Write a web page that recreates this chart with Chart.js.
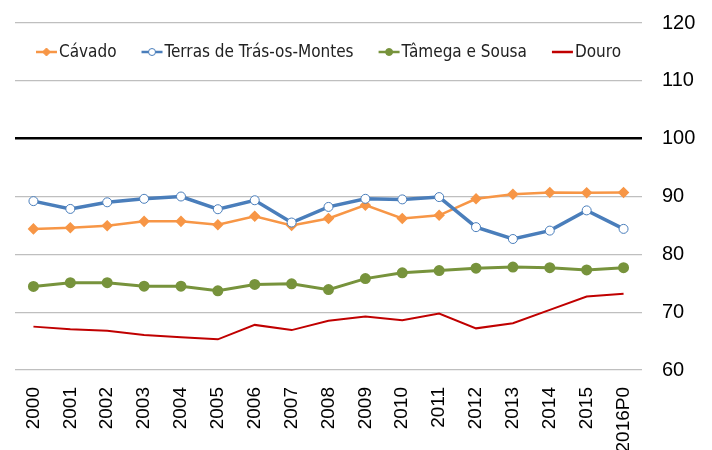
<!DOCTYPE html>
<html>
<head>
<meta charset="utf-8">
<script src="https://cdn.jsdelivr.net/npm/chart.js@4/dist/chart.umd.min.js"></script>
<style>
  html, body { margin: 0; padding: 0; background: #fff; }
  #wrap { width: 712px; height: 450px; }
</style>
</head>
<body>
<div id="wrap"><canvas id="lineChart" width="712" height="450"></canvas></div>
<script>
// chart data
const years = ['2000', '2001', '2002', '2003', '2004', '2005', '2006', '2007', '2008',
  '2009', '2010', '2011', '2012', '2013', '2014', '2015', '2016P0'];
const cavado = [84.4, 84.6, 84.95, 85.7, 85.7, 85.1, 86.6, 85.0, 86.2, 88.5, 86.2, 86.75, 89.6, 90.4, 90.7, 90.65, 90.7];
const terras = [89.2, 87.85, 89.0, 89.6, 90.0, 87.8, 89.35, 85.5, 88.2, 89.6, 89.5, 89.9, 84.7, 82.65, 84.1, 87.6, 84.4];
const tamega = [74.45, 75.1, 75.1, 74.5, 74.5, 73.7, 74.8, 74.9, 73.9, 75.8, 76.8, 77.2, 77.6, 77.8, 77.7, 77.3, 77.7];
const douro = [67.5, 67.05, 66.8, 66.05, 65.65, 65.3, 67.8, 66.9, 68.5, 69.25, 68.6, 69.75, 67.2, 68.1, 70.4, 72.7, 73.2];
const yTicks = [60, 70, 80, 90, 100, 110, 120];

const legendFont = '17px "DejaVu Sans Condensed", "DejaVu Sans", sans-serif';

// legend drawn inside the plot, line + marker like the original
const insideLegend = {
  id: 'insideLegend',
  afterDatasetsDraw(chart) {
    const c = chart.ctx;
    const area = chart.chartArea;
    const sets = chart.data.datasets;
    const lineLen = 21, gap = 2, itemGap = 25;
    c.save();
    c.font = legendFont;
    const widths = sets.map(ds => lineLen + gap + c.measureText(ds.label).width);
    const total = widths.reduce((a, b) => a + b, 0) + itemGap * (sets.length - 1);
    let x = (area.left + area.right) / 2 - total / 2;
    const y = area.top + 29;
    sets.forEach((ds, i) => {
      c.strokeStyle = ds.borderColor;
      c.lineWidth = 2.5;
      c.beginPath();
      c.moveTo(x, y);
      c.lineTo(x + lineLen, y);
      c.stroke();
      if (ds.pointRadius > 0) {
        const mx = x + lineLen / 2;
        c.fillStyle = ds.pointBackgroundColor;
        c.strokeStyle = ds.pointBorderColor;
        c.beginPath();
        if (ds.pointStyle === 'rectRot') {
          c.moveTo(mx, y - 4);
          c.lineTo(mx + 4, y);
          c.lineTo(mx, y + 4);
          c.lineTo(mx - 4, y);
          c.closePath();
        } else {
          c.arc(mx, y, 3.5, 0, Math.PI * 2);
        }
        c.fill();
        c.lineWidth = 1;
        c.stroke();
      }
      c.fillStyle = '#222';
      c.textBaseline = 'middle';
      c.textAlign = 'left';
      c.fillText(ds.label, x + lineLen + gap, y + 1);
      x += widths[i] + itemGap;
    });
    c.restore();
  }
};

const ctx = document.getElementById('lineChart').getContext('2d');
const lineChart = new Chart(ctx, {
  type: 'line',
  data: {
    labels: years,
    datasets: [
      {
        label: 'Cávado',
        data: cavado,
        borderColor: '#F79646',
        backgroundColor: '#F79646',
        pointBackgroundColor: '#F79646',
        pointBorderColor: '#F79646',
        pointStyle: 'rectRot',
        pointRadius: 4,
        borderWidth: 2.5,
        order: 4
      },
      {
        label: 'Terras de Trás-os-Montes',
        data: terras,
        borderColor: '#4A7EBB',
        backgroundColor: '#ffffff',
        pointBackgroundColor: '#ffffff',
        pointBorderColor: '#4A7EBB',
        pointStyle: 'circle',
        pointRadius: 4.5,
        pointBorderWidth: 1,
        borderWidth: 3.5,
        order: 3
      },
      {
        label: 'Tâmega e Sousa',
        data: tamega,
        borderColor: '#77933C',
        backgroundColor: '#77933C',
        pointBackgroundColor: '#77933C',
        pointBorderColor: '#77933C',
        pointStyle: 'circle',
        pointRadius: 4,
        borderWidth: 3,
        order: 2
      },
      {
        label: 'Douro',
        data: douro,
        borderColor: '#C00000',
        backgroundColor: '#C00000',
        pointBackgroundColor: '#C00000',
        pointBorderColor: '#C00000',
        pointRadius: 0,
        borderWidth: 2,
        order: 1
      }
    ]
  },
  options: {
    responsive: false,
    animation: false,
    layout: { padding: { left: 15, top: 23, right: 0, bottom: 0 } },
    plugins: {
      legend: { display: false },
      tooltip: { enabled: false }
    },
    elements: { line: { tension: 0 } },
    scales: {
      x: {
        offset: true,
        grid: { display: false, drawTicks: false, offset: true },
        border: { display: false },
        ticks: {
          color: '#000',
          font: { family: '"Liberation Sans", Arial, sans-serif', size: 19 },
          minRotation: 90,
          maxRotation: 90,
          padding: 17,
          autoSkip: false
        },
        afterFit(scale) { scale.height = 80; }
      },
      y: {
        position: 'right',
        min: 60,
        max: 120,
        afterBuildTicks(scale) { scale.ticks = yTicks.map(v => ({ value: v })); },
        grid: {
          drawTicks: false,
          color: c => c.tick && c.tick.value === 100 ? '#000000' : '#BFBFBF',
          lineWidth: c => c.tick && c.tick.value === 100 ? 2.5 : 1.2
        },
        border: { display: false },
        ticks: {
          color: '#000',
          font: { family: '"Liberation Sans", Arial, sans-serif', size: 20 },
          padding: 20
        },
        afterFit(scale) {
          scale.width = 70;
          scale.paddingTop = 0;
          scale.paddingBottom = 0;
        }
      }
    }
  },
  plugins: [insideLegend]
});
</script>
</body>
</html>
